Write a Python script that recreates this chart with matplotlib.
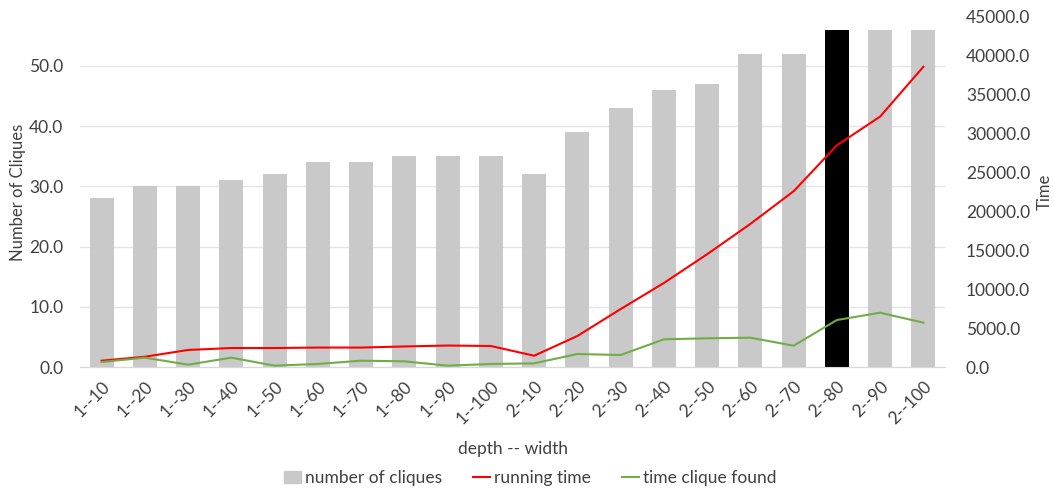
import matplotlib.pyplot as plt
from matplotlib.lines import Line2D
from matplotlib.patches import Patch

plt.rcParams['font.family'] = ['Lato', 'DejaVu Sans']

labels = ['1--10', '1--20', '1--30', '1--40', '1--50', '1--60', '1--70', '1--80', '1--90', '1--100',
          '2--10', '2--20', '2--30', '2--40', '2--50', '2--60', '2--70', '2--80', '2--90', '2--100']
cliques = [28, 30, 30, 31, 32, 34, 34, 35, 35, 35, 32, 39, 43, 46, 47, 52, 52, 56, 56, 56]
running_time = [810, 1320, 2190, 2440, 2440, 2500, 2500, 2640, 2760, 2700,
                1450, 3990, 7450, 10800, 14500, 18400, 22600, 28500, 32200, 38600]
time_found = [640, 1200, 300, 1200, 170, 390, 810, 730, 170, 390,
              470, 1670, 1540, 3560, 3690, 3770, 2740, 6040, 6980, 5700]
highlight = '2--80'

text_col = '#404040'
fig = plt.figure(figsize=(10.54, 4.88), dpi=100)
ax = fig.add_axes([80 / 1054, 121 / 488, 865 / 1054, 350 / 488])
ax2 = ax.twinx()

x = list(range(len(labels)))
bar_colors = ['black' if l == highlight else '#c9c9c9' for l in labels]
ax.bar(x, cliques, width=0.55, color=bar_colors, zorder=2)
ax.set_ylim(0, 58.1)
ax.set_xlim(-0.5, len(labels) - 0.5)
ax.set_yticks([0, 10, 20, 30, 40, 50])
ax.set_yticklabels([f'{v:.1f}' for v in [0, 10, 20, 30, 40, 50]])
ax.grid(axis='y', color='#e4e4e4', linewidth=1, zorder=0)
ax.set_axisbelow(True)

ax2.plot(x, running_time, color='#ff0000', linewidth=1.5, zorder=3)
ax2.plot(x, time_found, color='#70ad47', linewidth=1.5, zorder=3)
ax2.set_ylim(0, 45000)
ax2.set_yticks(range(0, 45001, 5000))
ax2.set_yticklabels([f'{v:.1f}' for v in range(0, 45001, 5000)])

ax.set_xticks(x)
ax.set_xticklabels(labels, rotation=45, ha='right', rotation_mode='anchor')

for a in (ax, ax2):
    for s in a.spines.values():
        s.set_visible(False)
    a.tick_params(length=0, labelsize=12.5, colors=text_col)
ax.spines['bottom'].set_visible(True)
ax.spines['bottom'].set_color('#d9d9d9')
ax.tick_params(axis='y', pad=12)
ax2.tick_params(axis='y', pad=15)
ax.tick_params(axis='x', pad=8)

ax.set_ylabel('Number of Cliques', fontsize=12, color=text_col, labelpad=2)
ax2.set_ylabel('Time', fontsize=12, color=text_col, labelpad=5)
ax.set_xlabel('depth -- width', fontsize=12.5, color=text_col, labelpad=10)

handles = [Patch(color='#c9c9c9', label='number of cliques'),
           Line2D([], [], color='#ff0000', linewidth=1.5, label='running time'),
           Line2D([], [], color='#70ad47', linewidth=1.5, label='time clique found')]
fig.legend(handles=handles, loc='center', bbox_to_anchor=(530 / 1054, 1 - 478 / 488), ncol=3,
           frameon=False, fontsize=12.5, handlelength=1.0, handletextpad=0.2, columnspacing=1.8,
           labelcolor=text_col)

fig.savefig('out.png', dpi=100)
